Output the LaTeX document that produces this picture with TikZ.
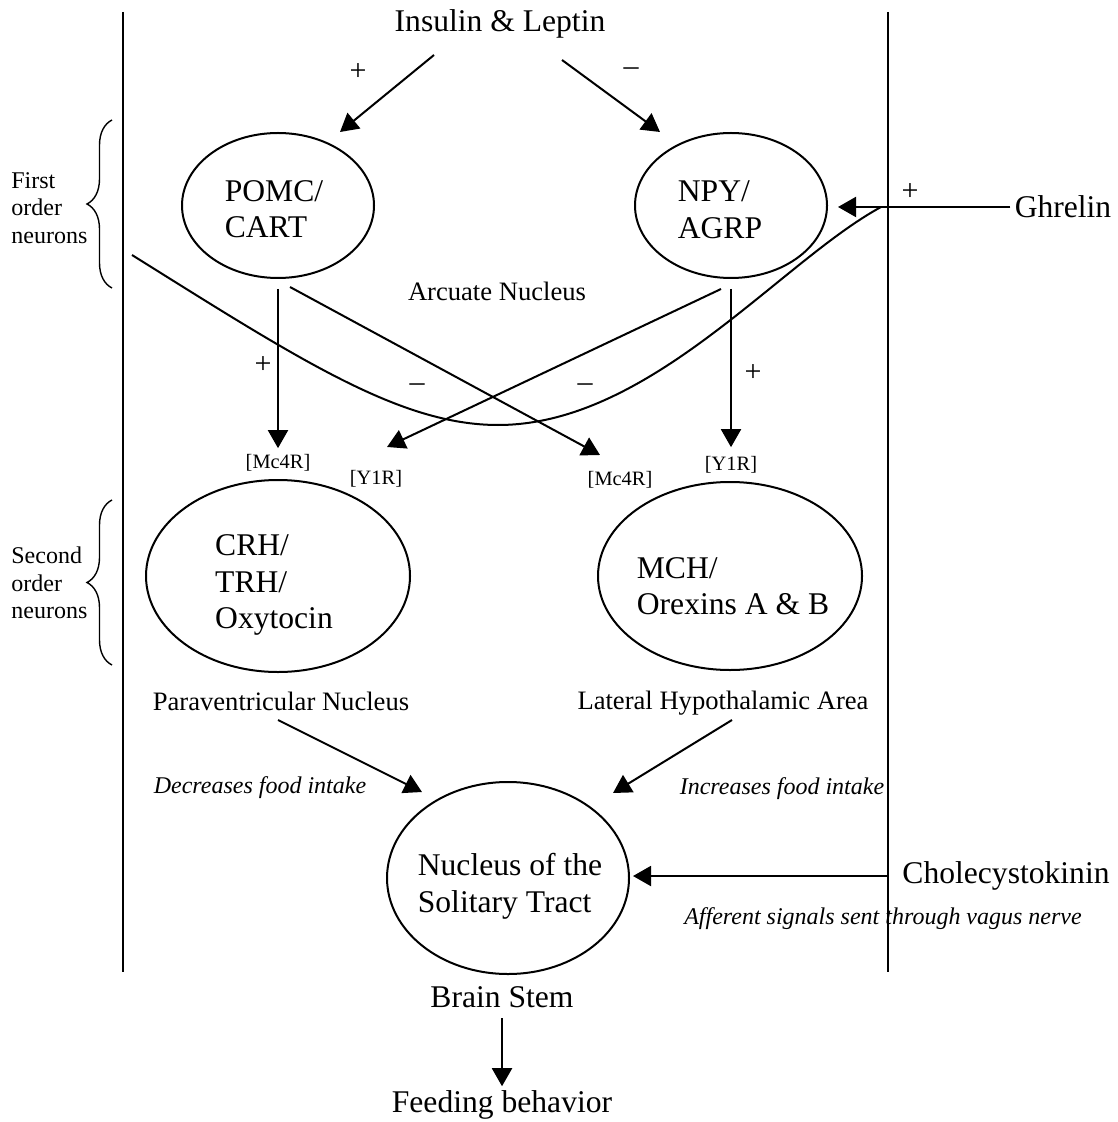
\documentclass[tikz,border=0pt]{standalone}
\usepackage{fontspec}
\setmainfont{Liberation Serif}
\usepackage{tikz}
\usetikzlibrary{arrows.meta,shapes.geometric,decorations.pathreplacing,calc}

\begin{document}
\begin{tikzpicture}[x=0.5pt,y=-0.5pt,>={Triangle[length=9pt,width=10pt]},
  wire/.style={line width=1pt},
  arr/.style={line width=1pt,->},
  cell/.style={draw,ellipse,line width=1pt,inner sep=0pt},
  big/.style={font=\fontsize{15.8}{18.3}\selectfont,align=left,inner sep=2pt},
  mid/.style={font=\fontsize{13.3}{16}\selectfont,inner sep=2pt},
  note/.style={font=\fontsize{12}{14}\selectfont\itshape,inner sep=1pt},
  side/.style={font=\fontsize{12}{13.75}\selectfont,align=left,inner sep=0pt},
  rec/.style={font=\fontsize{10.2}{12}\selectfont,inner sep=1pt},
  sign/.style={font=\fontsize{15}{16}\selectfont,inner sep=0pt}]
\useasboundingbox (0,0) rectangle (1117,1122);
% walls
\draw[wire] (123,12) -- (123,972);
\draw[wire] (888,12) -- (888,972);
% first order neurons
\node[cell,minimum width=96pt,minimum height=72.5pt] (pomc) at (278,205.5) {};
\node[big] (pomctxt) at (274,209) {POMC/\\CART};
\node[cell,minimum width=96pt,minimum height=72.5pt] (npy) at (731,205.5) {};
\node[big] (npytxt) at (720,210) {NPY/\\AGRP};
\node[mid] (arc) at (497,291) {Arcuate Nucleus};
% second order neurons
\node[cell,minimum width=132pt,minimum height=96pt] (crh) at (278,576) {};
\node[big] (crhtxt) at (274,585) {CRH/\\TRH/\\Oxytocin};
\node[cell,minimum width=132pt,minimum height=94pt] (mch) at (730,576) {};
\node[big] (mchtxt) at (733,586) {MCH/\\Orexins A \& B};
\node[mid] (pvn) at (281,701) {Paraventricular Nucleus};
\node[mid] (lha) at (723,703) {Lateral Hypothalamic Area};
% brain stem
\node[cell,minimum width=121pt,minimum height=96pt] (nts) at (508,878) {};
\node[big] (ntstxt) at (510,886) {Nucleus of the\\Solitary Tract};
\node[big] (bs) at (502,997) {Brain Stem};
\node[big] (feed) at (502,1105) {Feeding behavior};
% outside signals
\node[big] (ins) at (500,24) {Insulin \& Leptin};
\node[big] (ghr) at (1063,207) {Ghrelin};
\node[big] (cck) at (1006,876) {Cholecystokinin};
% receptors
\node[rec] (mcA) at (278,463) {[Mc4R]};
\node[rec] (yA) at (376,479) {[Y1R]};
\node[rec] (mcB) at (620,480) {[Mc4R]};
\node[rec] (yB) at (731,465) {[Y1R]};
% notes
\node[note] (dec) at (260,788) {Decreases food intake};
\node[note] (inc) at (782,789) {Increases food intake};
\node[note] (aff) at (883,919) {Afferent signals sent through vagus nerve};
% braces
\draw[line width=0.7pt,decorate,decoration={brace,amplitude=12.5pt}] (112,288) -- (112,120);
\draw[line width=0.7pt,decorate,decoration={brace,amplitude=12.5pt}] (112,665) -- (112,500);
\node[side,anchor=west] (first) at (11,208) {First\\order\\neurons};
\node[side,anchor=west] (second) at (11,583) {Second\\order\\neurons};
% insulin & leptin
\coordinate (insA) at (434,55); \coordinate (pomcTop) at (340,132);
\coordinate (insB) at (562,60); \coordinate (npyTop) at (660,132);
\draw[arr] (insA) -- (pomcTop);
\draw[arr] (insB) -- (npyTop);
\node[sign] (plA) at (358,72) {+};
\node[sign] (miA) at (631,72) {\textendash};
% ghrelin
\draw[arr,shorten >=5pt] (ghr.west) -- (ghr.west -| npy.east);
\node[sign] (plG) at (910,192) {+};
\coordinate (cv) at (132,255); \coordinate (gj) at (881,207);
\draw[wire] (cv) .. controls (300,360) and (400,425) .. (498,425)
  .. controls (650,425) and (780,262) .. (gj);
% arcuate to second order
\draw[arr,shorten <=5pt,shorten >=2pt] (pomc) -- (mcA);
\draw[arr,shorten <=5pt,shorten >=3.5pt] (npy) -- (yB);
\coordinate (pomcR) at (290,287); \coordinate (mcBin) at (600,455);
\coordinate (npyL) at (721,289); \coordinate (yAin) at (387,447);
\draw[arr] (pomcR) -- (mcBin);
\draw[arr] (npyL) -- (yAin);
\node[sign] (plB) at (263,365) {+};
\node[sign] (miB) at (417,388) {\textendash};
\node[sign] (miC) at (585,388) {\textendash};
\node[sign] (plC) at (753,373) {+};
% second order to brain stem
\coordinate (pvnOut) at (278,720); \coordinate (ntsL) at (422,792);
\coordinate (lhaOut) at (732,720); \coordinate (ntsR) at (613,793);
\draw[arr] (pvnOut) -- (ntsL);
\draw[arr] (lhaOut) -- (ntsR);
\draw[arr,shorten >=1.5pt] ([xshift=-5pt]cck.west) -- (cck.west -| nts.east);
\draw[arr,shorten <=3pt] (bs) -- (feed);
\end{tikzpicture}
\end{document}
